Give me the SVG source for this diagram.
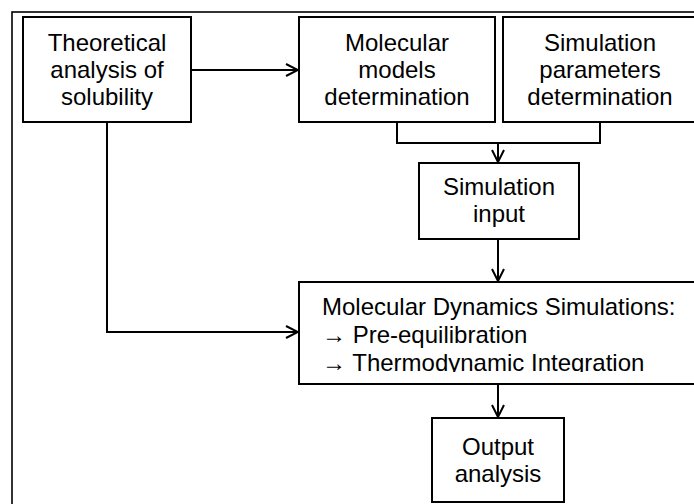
<svg xmlns="http://www.w3.org/2000/svg" width="694" height="504" viewBox="0 0 694 504">
  <style>
    .box { fill: #ffffff; stroke: #000000; stroke-width: 2; }
    .frame { fill: none; stroke: #000000; stroke-width: 1.6; }
    .label { font-family: "Liberation Sans", Arial, sans-serif; font-size: 24px; fill: #000000; }
    .c { text-anchor: middle; }
    .wire { fill: none; stroke: #000000; stroke-width: 2; }
  </style>
  <defs>
    <marker id="chevron" viewBox="0 0 14 14" refX="13" refY="7" markerWidth="14" markerHeight="14" markerUnits="userSpaceOnUse" orient="auto">
      <path d="M1,1 L13,7 L1,13" fill="none" stroke="#000000" stroke-width="2"/>
    </marker>
    <clipPath id="mdClip">
      <rect x="300" y="283" width="400" height="89"/>
    </clipPath>
  </defs>

  <rect class="frame" x="12" y="12" width="700" height="510"/>

  <g id="connectors">
    <path class="wire" d="M191,70 H298" marker-end="url(#chevron)"/>
    <path class="wire" d="M107,122 V332 H298" marker-end="url(#chevron)"/>
    <path class="wire" d="M397,122 V143 H600 V122"/>
    <path class="wire" d="M498,143 V162" marker-end="url(#chevron)"/>
    <path class="wire" d="M498,239 V281" marker-end="url(#chevron)"/>
    <path class="wire" d="M498,384 V417" marker-end="url(#chevron)"/>
  </g>

  <g id="theoretical-analysis">
    <rect class="box" x="23" y="17" width="168" height="105"/>
    <text class="label c" x="107" y="51">Theoretical</text>
    <text class="label c" x="107" y="78">analysis of</text>
    <text class="label c" x="107" y="105">solubility</text>
  </g>

  <g id="molecular-models">
    <rect class="box" x="299" y="17" width="196" height="105"/>
    <text class="label c" x="397" y="51">Molecular</text>
    <text class="label c" x="397" y="78">models</text>
    <text class="label c" x="397" y="105">determination</text>
  </g>

  <g id="simulation-parameters">
    <rect class="box" x="503" y="17" width="194" height="105"/>
    <text class="label c" x="600" y="51">Simulation</text>
    <text class="label c" x="600" y="78">parameters</text>
    <text class="label c" x="600" y="105">determination</text>
  </g>

  <g id="simulation-input">
    <rect class="box" x="419" y="163" width="160" height="76"/>
    <text class="label c" x="499" y="195">Simulation</text>
    <text class="label c" x="499" y="222">input</text>
  </g>

  <g id="md-simulations">
    <rect class="box" x="299" y="282" width="398" height="102"/>
    <g clip-path="url(#mdClip)">
      <text class="label" x="322" y="315">Molecular Dynamics Simulations:</text>
      <text class="label" x="322" y="343">→ Pre-equilibration</text>
      <text class="label" x="322" y="371">→ Thermodynamic Integration</text>
    </g>
  </g>

  <g id="output-analysis">
    <rect class="box" x="432" y="418" width="132" height="84"/>
    <text class="label c" x="498" y="455">Output</text>
    <text class="label c" x="498" y="482">analysis</text>
  </g>
</svg>
